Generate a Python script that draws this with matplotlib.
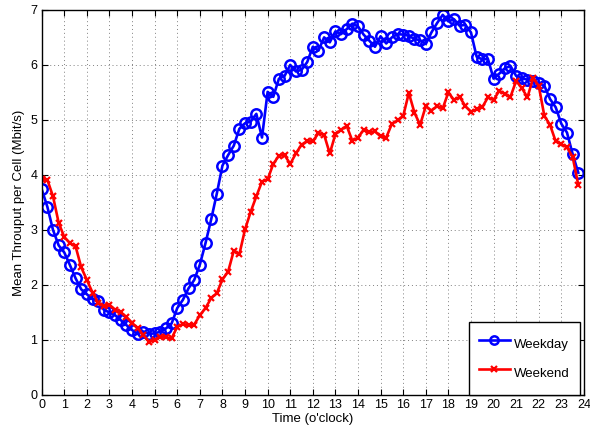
import numpy as np
import matplotlib.pyplot as plt

plt.rcParams['font.family'] = ['Liberation Sans', 'DejaVu Sans']

# 15-minute slots over one day
hours = np.arange(96) * 0.25

weekday = [3.74, 3.42, 3.00, 2.72, 2.59, 2.36, 2.12, 1.92, 1.83, 1.74, 1.70, 1.55,
           1.50, 1.45, 1.36, 1.27, 1.18, 1.11, 1.15, 1.11, 1.12, 1.15, 1.21, 1.30,
           1.58, 1.73, 1.94, 2.09, 2.37, 2.76, 3.19, 3.66, 4.17, 4.36, 4.53, 4.84,
           4.94, 4.97, 5.11, 4.68, 5.51, 5.42, 5.75, 5.80, 6.00, 5.88, 5.91, 6.05,
           6.33, 6.26, 6.50, 6.41, 6.61, 6.56, 6.65, 6.75, 6.70, 6.55, 6.44, 6.33,
           6.52, 6.39, 6.50, 6.56, 6.55, 6.53, 6.47, 6.45, 6.38, 6.59, 6.76, 6.91,
           6.79, 6.83, 6.71, 6.73, 6.59, 6.15, 6.10, 6.11, 5.75, 5.84, 5.94, 5.98,
           5.80, 5.76, 5.73, 5.70, 5.67, 5.62, 5.38, 5.23, 4.93, 4.77, 4.38, 4.04]

weekend = [3.93, 3.91, 3.61, 3.13, 2.87, 2.76, 2.70, 2.32, 2.09, 1.86, 1.68, 1.61,
           1.64, 1.55, 1.50, 1.42, 1.31, 1.21, 1.09, 0.97, 1.00, 1.06, 1.05, 1.03,
           1.24, 1.29, 1.27, 1.28, 1.45, 1.58, 1.76, 1.85, 2.10, 2.24, 2.62, 2.56,
           3.01, 3.33, 3.61, 3.88, 3.92, 4.20, 4.35, 4.36, 4.20, 4.39, 4.55, 4.61,
           4.61, 4.76, 4.73, 4.39, 4.74, 4.82, 4.89, 4.62, 4.68, 4.82, 4.78, 4.79,
           4.70, 4.68, 4.93, 4.99, 5.07, 5.49, 5.13, 4.91, 5.25, 5.17, 5.25, 5.21,
           5.50, 5.36, 5.42, 5.25, 5.15, 5.19, 5.23, 5.41, 5.36, 5.53, 5.47, 5.42,
           5.71, 5.58, 5.41, 5.76, 5.62, 5.07, 4.91, 4.61, 4.56, 4.50, 4.33, 3.82]

fig = plt.figure(figsize=(5.9, 4.26), dpi=100)
ax = fig.add_axes([0.0707, 0.0728, 0.919, 0.904])

ax.plot(hours, weekday, color='blue', lw=1.9, marker='o', ms=7.5,
        mfc='none', mec='blue', mew=1.8, label='Weekday')
ax.plot(hours, weekend, color='red', lw=1.9, marker='x', ms=5,
        mec='red', mew=1.6, label='Weekend')

ax.set_xlim(0, 24)
ax.set_ylim(0, 7)
ax.set_xticks(range(0, 25))
ax.set_yticks(range(0, 8))
ax.tick_params(direction='in', top=True, right=True, labelsize=9, length=4, pad=3)
ax.grid(True, linestyle=(0, (1, 3)), color='gray', lw=0.7)
for s in ax.spines.values():
    s.set_linewidth(1.0)

ax.set_xlabel("Time (o'clock)", fontsize=9.5, labelpad=1)
ax.set_ylabel('Mean Throuput per Cell (Mbit/s)', fontsize=9.5, labelpad=4)

leg = ax.legend(loc='lower right', bbox_to_anchor=(0.9926, 0.0), fontsize=9.5,
                fancybox=False, framealpha=1, edgecolor='black', borderaxespad=0,
                handlelength=2.4, handleheight=2.46, handletextpad=0.3,
                labelspacing=0.35, borderpad=0.75, markerscale=0.8)
leg.get_frame().set_linewidth(1.0)

fig.savefig('out.png', dpi=100)
